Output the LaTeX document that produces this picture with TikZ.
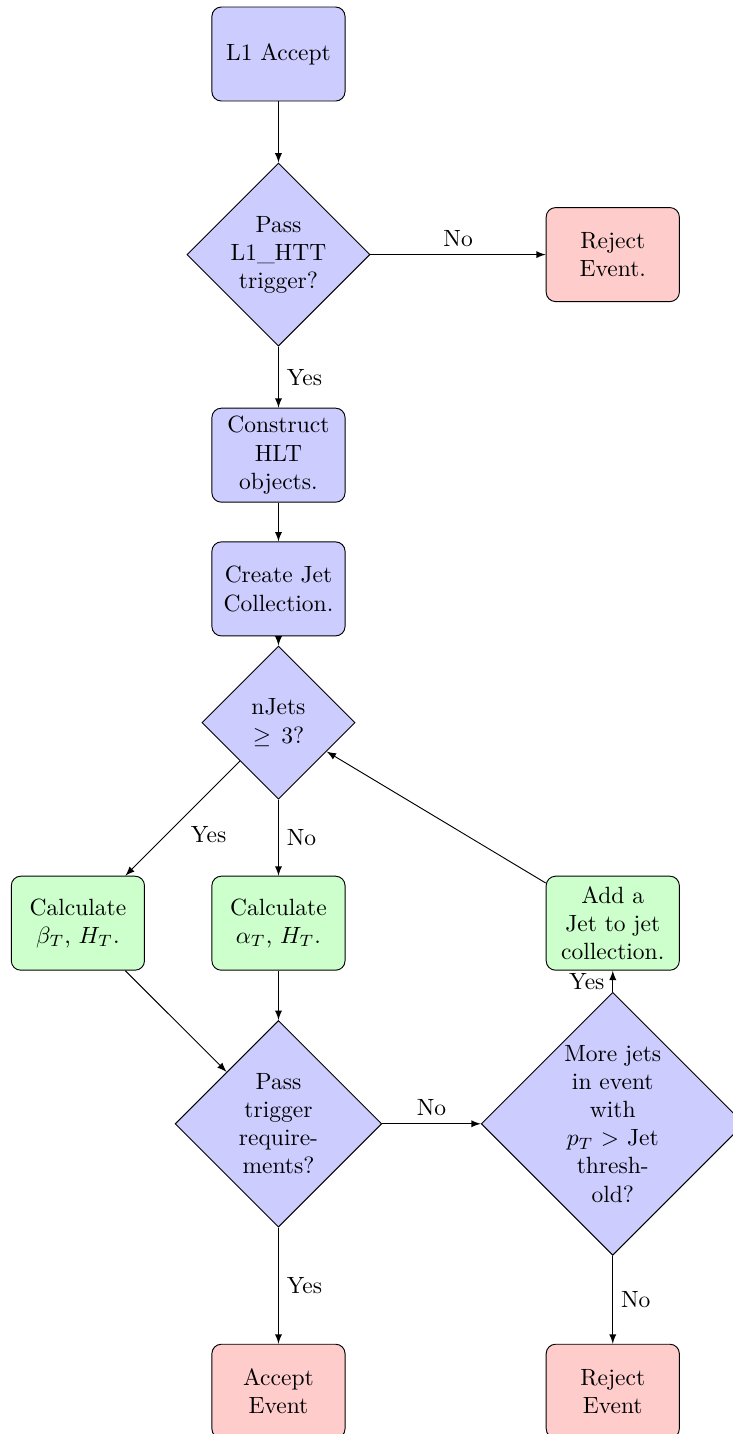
\documentclass[tikz,border=0pt]{standalone}
\usepackage{amsmath}
\usepackage{amssymb}
\usetikzlibrary{shapes.geometric}
\usetikzlibrary{arrows.meta}
\usetikzlibrary{positioning}

\tikzset{
decision/.style={diamond,draw,fill=blue!20,text width=4.5em,align=center,inner sep=0pt},
block/.style={rectangle,draw,fill=blue!20,text width=5em,align=center,rounded corners,minimum height=4em},
line/.style={draw,-latex},
}

\begin{document}
\begin{tikzpicture}[on grid,node distance=3cm]
\useasboundingbox (-4.165,0.808) rectangle (6.798,-20.64);
\node (l1) [block] {L1 Accept};
\node (htt) [decision,below=3cm of l1] {Pass L1\_HTT trigger?};
\node (rej1) [block,fill=red!20,right=5cm of htt] {Reject Event.};
\node (hlt) [block,below=3cm of htt] {Construct HLT objects.};
\node (coll) [block,below=2cm of hlt] {Create Jet Collection.};
\node (njets) [decision,below=2cm of coll] {nJets $\geq 3$?};
\node (alpha) [block,fill=green!20,below=3cm of njets] {Calculate $\alpha_T$, $H_T$.};
\node (beta) [block,fill=green!20,left=3cm of alpha] {Calculate $\beta_T$, $H_T$.};
\node (addjet) [block,fill=green!20,right=5cm of alpha] {Add a Jet to jet collection.};
\node (pass) [decision,below=3cm of alpha] {Pass trigger requirements?};
\node (more) [decision,right=5cm of pass] {More jets in event with $p_T >$ Jet threshold?};
\node (acc) [block,fill=red!20,below=4cm of pass] {Accept Event};
\node (rej2) [block,fill=red!20,below=4cm of more] {Reject Event};
\path [line] (l1) -- (htt);
\path [line] (htt) -- node [midway,above] {No} (rej1);
\path [line] (htt) -- node [midway,right] {Yes} (hlt);
\path [line] (hlt) -- (coll);
\path [line] (coll) -- (njets);
\path [line] (njets) -- node [midway,below right] {Yes} (beta);
\path [line] (njets) -- node [midway,right] {No} (alpha);
\path [line] (beta) -- (pass);
\path [line] (alpha) -- (pass);
\path [line] (pass) -- node [midway,above] {No} (more);
\path [line] (pass) -- node [midway,right] {Yes} (acc);
\path [line] (more) -- node [midway,right] {No} (rej2);
\path [line] (more) -- node [midway,left] {Yes} (addjet);
\path [line] (addjet) -- (njets);
\end{tikzpicture}
\end{document}
